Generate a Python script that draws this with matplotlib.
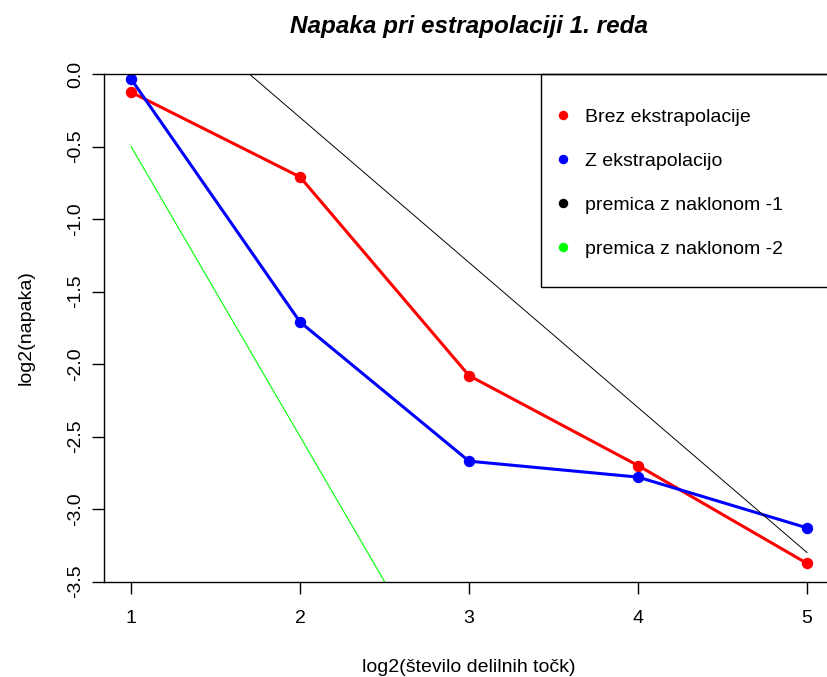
import numpy as np
import matplotlib
matplotlib.use("Agg")
import matplotlib.pyplot as plt
from matplotlib.lines import Line2D
from matplotlib.patches import Rectangle

#### 00 data
x = [1, 2, 3, 4, 5]
brez = [-0.125, -0.71, -2.08, -2.70, -3.375]
z_ekstra = [-0.034, -1.71, -2.67, -2.78, -3.13]
premica1 = [0.7, -0.3, -1.3, -2.3, -3.3]     # naklon -1
premica2 = [-0.5, -2.5, -4.5, -6.5, -8.5]    # naklon -2
labels = ["Brez ekstrapolacije", "Z ekstrapolacijo",
          "premica z naklonom -1", "premica z naklonom -2"]
colors = ["#FF0000", "#0000FF", "black", "#00FF00"]
xticks = [1, 2, 3, 4, 5]
yticks = [0.0, -0.5, -1.0, -1.5, -2.0, -2.5, -3.0, -3.5]

#### 01 style
plt.rcParams["font.family"] = ["Liberation Sans", "DejaVu Sans"]
plt.rcParams["axes.unicode_minus"] = False

W, H = 827, 677
fig = plt.figure(figsize = (W / 100, H / 100), dpi = 100)
# plot region is cropped on the right in the original
ax = fig.add_axes([104 / W, 1 - 581.5 / H, 730 / W, 507.5 / H])

#### 02 plot
ax.plot(x, brez, color = colors[0], lw = 2.2, marker = "o", ms = 7.2)
ax.plot(x, z_ekstra, color = colors[1], lw = 2.2, marker = "o", ms = 7.2)
ax.plot(x, premica1, color = colors[2], lw = 0.7)
ax.plot(x, premica2, color = colors[3], lw = 0.8)

ax.set_xlim(0.84, 5.16)
ax.set_ylim(-3.5, 0)
ax.set_xticks(xticks)
ax.set_yticks(yticks)
ax.set_yticklabels(["%.1f" % v for v in yticks], rotation = 90, va = "center")
ax.tick_params(direction = "out", length = 8.5, width = 1, labelsize = 14)
ax.tick_params(axis = "x", pad = 12)
ax.tick_params(axis = "y", pad = 6)
for s in ax.spines.values():
    s.set_linewidth(1)

ax.set_xlabel("log2(število delilnih točk)", fontsize = 14, labelpad = 23)
ax.set_ylabel("log2(napaka)", fontsize = 14, labelpad = 23)
fig.text(469 / W, 1 - 27 / H, "Napaka pri estrapolaciji 1. reda",
         fontsize = 17.5, fontweight = "bold", fontstyle = "italic",
         ha = "center", va = "center")

# legend: box drawn separately, it runs off the right edge like in the original
ax.add_patch(Rectangle(((541 - 104) / 730, 1 - (287 - 74) / 507.5),
                       1.0, (287 - 74) / 507.5, transform = ax.transAxes,
                       fill = False, edgecolor = "black", lw = 1, clip_on = False, zorder = 5))
handles = [Line2D([], [], ls = "none", marker = "o", ms = 5.8, color = c) for c in colors]
leg = ax.legend(handles, labels, loc = "upper left",
                bbox_to_anchor = ((557 - 104) / 730, 1 - (108 - 74) / 507.5),
                fontsize = 14, frameon = False, borderpad = 0, labelspacing = 1.36,
                handlelength = 0.6, handletextpad = 0.84, borderaxespad = 0)

plt.savefig("out.png", dpi = 100)
